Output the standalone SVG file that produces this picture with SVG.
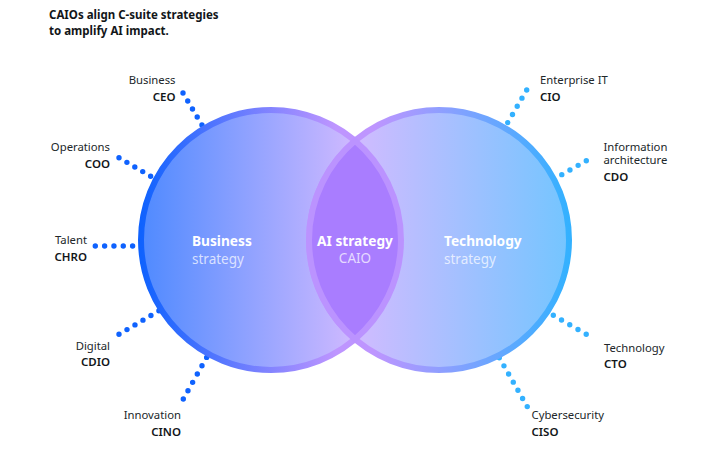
<svg xmlns="http://www.w3.org/2000/svg" width="723" height="457" viewBox="0 0 723 457">
<style>
text{font-family:"Noto Sans","Open Sans","Liberation Sans",sans-serif}
.t{font-size:11.3px;fill:#21272a}
.b{font-size:11.5px;font-weight:600;fill:#121619}
.e{text-anchor:end}
.m{text-anchor:middle}
.h{font-size:11.5px;font-weight:700;fill:#121619}
.n{font-size:13.7px;font-weight:700;fill:#fff}
.s{font-size:13.5px;fill:#fff;fill-opacity:.72}
.dl,.dr{fill:none;stroke-width:5.4;stroke-linecap:round;stroke-dasharray:0 1}
.dl{stroke:#0f62fe}
.dr{stroke:#33b1ff}
</style>
<defs>
<linearGradient id="lf" x1="0" x2="1" y1="0" y2="0"><stop offset="0" stop-color="#4f8aff"/><stop offset=".85" stop-color="#d4bbff"/><stop offset="1" stop-color="#d4bbff"/></linearGradient>
<linearGradient id="ls" x1="0" x2="1" y1="0" y2="0"><stop offset="0" stop-color="#0f62fe"/><stop offset=".75" stop-color="#be95ff"/><stop offset="1" stop-color="#be95ff"/></linearGradient>
<linearGradient id="rf" x1="0" x2="1" y1="0" y2="0"><stop offset="0" stop-color="#d4bbff"/><stop offset=".15" stop-color="#d4bbff"/><stop offset="1" stop-color="#74c5ff"/></linearGradient>
<linearGradient id="rs" x1="0" x2="1" y1="0" y2="0"><stop offset="0" stop-color="#be95ff"/><stop offset=".25" stop-color="#be95ff"/><stop offset="1" stop-color="#33b1ff"/></linearGradient>
</defs>
<text class="h" x="49" y="19">CAIOs align C-suite strategies</text>
<text class="h" x="49" y="35">to amplify AI impact.</text>
<g id="connectors">
<line class="dl" pathLength="4.01" x1="183" y1="93" x2="202" y2="125"/>
<line class="dl" pathLength="4.01" x1="119" y1="157.7" x2="150.7" y2="176.3"/>
<line class="dl" pathLength="4.01" x1="95.3" y1="246" x2="132.7" y2="246"/>
<line class="dl" pathLength="5.01" x1="119" y1="334.3" x2="159" y2="310.7"/>
<line class="dl" pathLength="5.01" x1="183.3" y1="399" x2="206.7" y2="357.3"/>
<line class="dr" pathLength="4.01" x1="526.7" y1="90" x2="507.7" y2="122.7"/>
<line class="dr" pathLength="3.01" x1="586.3" y1="160.7" x2="561.7" y2="174.7"/>
<line class="dr" pathLength="4.01" x1="553.3" y1="315.3" x2="586.3" y2="334.3"/>
<line class="dr" pathLength="6.01" x1="499.3" y1="357.7" x2="527.3" y2="406.7"/>
</g>
<g id="business"><circle cx="271" cy="240" r="130" fill="url(#lf)" stroke="url(#ls)" stroke-width="6"/></g>
<g id="technology"><circle cx="439" cy="240" r="130" fill="url(#rf)" stroke="url(#rs)" stroke-width="6"/></g>
<g id="ai-strategy">
<path d="M355 140.800A130 130 0 0 1 355 339.200A130 130 0 0 1 355 140.800Z" fill="#a97dff" stroke="#bb93ff" stroke-width="6"/>
<text class="n m" x="355" y="246">AI strategy</text>
<text class="s m" x="355" y="263">CAIO</text>
</g>
<g id="business-label"><text class="n" x="192" y="246">Business</text><text class="s" x="192" y="264">strategy</text></g>
<g id="technology-label"><text class="n" x="444" y="246">Technology</text><text class="s" x="444" y="264">strategy</text></g>
<g id="ceo"><text class="t e" x="175.500" y="84">Business</text><text class="b e" x="175.500" y="101">CEO</text></g>
<g id="coo"><text class="t e" x="110" y="151">Operations</text><text class="b e" x="110" y="168">COO</text></g>
<g id="chro"><text class="t e" x="87" y="244">Talent</text><text class="b e" x="87" y="261">CHRO</text></g>
<g id="cdio"><text class="t e" x="110" y="350">Digital</text><text class="b e" x="110" y="366">CDIO</text></g>
<g id="cino"><text class="t e" x="181" y="419">Innovation</text><text class="b e" x="181" y="436">CINO</text></g>
<g id="cio"><text class="t" x="540" y="84">Enterprise IT</text><text class="b" x="540" y="101">CIO</text></g>
<g id="cdo"><text class="t" x="603.500" y="151">Information</text><text class="t" x="603.500" y="164">architecture</text><text class="b" x="603.500" y="181">CDO</text></g>
<g id="cto"><text class="t" x="604" y="352">Technology</text><text class="b" x="604" y="368">CTO</text></g>
<g id="ciso"><text class="t" x="531.500" y="419">Cybersecurity</text><text class="b" x="531.500" y="436">CISO</text></g>
</svg>
